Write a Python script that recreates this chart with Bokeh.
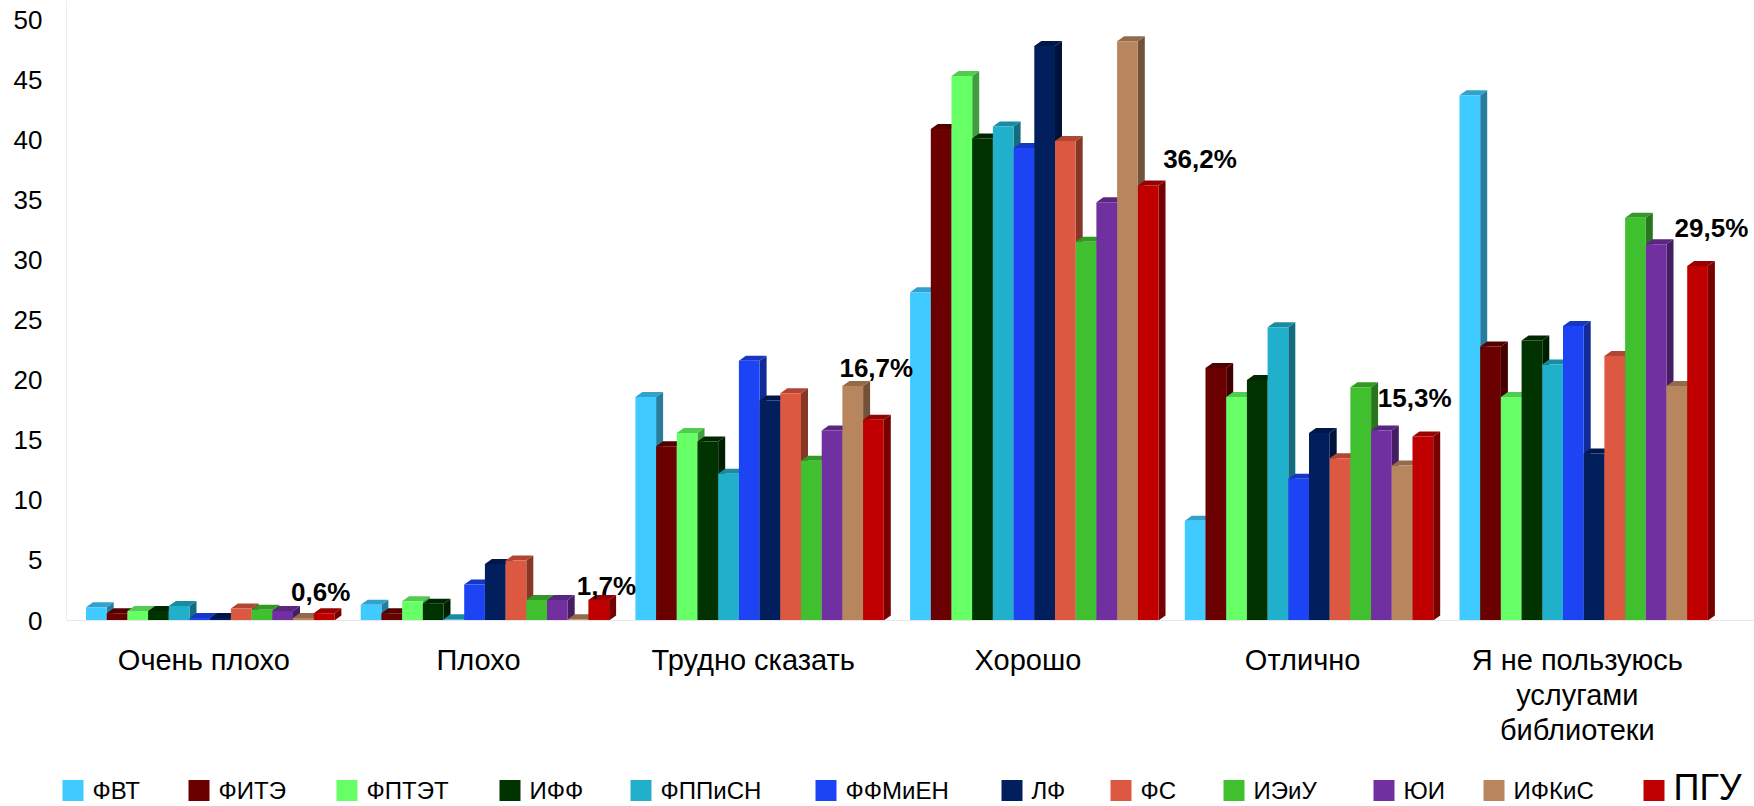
from bokeh.plotting import figure
from bokeh.layouts import column
from bokeh.models import Range1d, FixedTicker, ColumnDataSource
from bokeh.core.properties import value
from bokeh.embed import file_html
from bokeh.resources import INLINE

categories = ["Очень плохо", "Плохо", "Трудно сказать", "Хорошо", "Отлично",
              "Я не пользуюсь\nуслугами\nбиблиотеки"]
series_names = ["ФВТ", "ФИТЭ", "ФПТЭТ", "ИФФ", "ФППиСН", "ФФМиЕН", "ЛФ", "ФС",
                "ИЭиУ", "ЮИ", "ИФКиС", "ПГУ"]

fvt    = [1.1, 1.3, 18.6, 27.3, 8.3, 43.7]
fite   = [0.6, 0.6, 14.5, 40.9, 21.0, 22.8]
fptet  = [0.8, 1.6, 15.6, 45.3, 18.6, 18.6]
iff    = [0.8, 1.4, 14.9, 40.1, 20.0, 23.3]
fppisn = [1.2, 0.1, 12.2, 41.1, 24.4, 21.3]
ffmien = [0.2, 3.0, 21.6, 39.3, 11.8, 24.5]
lf     = [0.2, 4.7, 18.3, 47.8, 15.6, 13.9]
fs     = [1.0, 5.0, 18.9, 39.9, 13.5, 22.0]
ieiu   = [0.9, 1.7, 13.3, 31.5, 19.4, 33.5]
yui    = [0.8, 1.7, 15.8, 34.8, 15.8, 31.3]
ifkis  = [0.2, 0.1, 19.5, 48.2, 12.9, 19.5]
pgu    = [0.6, 1.7, 16.7, 36.2, 15.3, 29.5]

y_ticks = [0, 5, 10, 15, 20, 25, 30, 35, 40, 45, 50]

all_values = [fvt, fite, fptet, iff, fppisn, ffmien, lf, fs, ieiu, yui, ifkis, pgu]
colors = ["#3FCBFF", "#6B0000", "#66FF66", "#003300", "#20B0CC", "#1C44F5",
          "#001F5C", "#DC5840", "#40BF2F", "#7030A0", "#B8865E", "#C00000"]

# ---- styling / geometry (px based) ----
W = 1754
PX_PER_CAT = 274.7
PX_PER_UNIT = 12.02
BAR_PX = 20.7
SHIFT_PX = 6.35
DEPTH_X_PX = 7.0
DEPTH_Y_PX = 5.0
LEFT_BORDER = 66
FRAME_W = W - LEFT_BORDER
FRAME_H = 620
BOTTOM_BORDER = 138
LEG_H = 48
# ПГУ label offsets (screen px): left edge relative to bar centre, baseline above bar top
label_dx = [-33, -22, -34, 15, -45, -23]
label_dy = [21, 14, 52, 26, 39, 38]
# legend layout: left edge of each key square (px)
legend_left = [62, 188, 336, 499, 630, 815, 1001, 1110, 1223, 1373, 1483, 1643]
LEG_SQ = 21
LEG_STANDOFF = 30
LEG_CY = 16
LEG_BIG_CY = 19

FONT = "Liberation Sans"


def shade(hexcol, f):
    h = hexcol.lstrip("#")
    r, g, b = (int(h[i:i + 2], 16) for i in (0, 2, 4))
    return "#%02x%02x%02x" % (int(r * f), int(g * f), int(b * f))


bw = BAR_PX / PX_PER_CAT
shift = SHIFT_PX / PX_PER_CAT
ddx = DEPTH_X_PX / PX_PER_CAT
ddy = DEPTH_Y_PX / PX_PER_UNIT

x_end = -0.5 + FRAME_W / PX_PER_CAT
y_end = FRAME_H / PX_PER_UNIT

p = figure(frame_width=FRAME_W, frame_height=FRAME_H,
           x_range=Range1d(-0.5, x_end), y_range=Range1d(0, y_end),
           output_backend="svg", toolbar_location=None,
           min_border_left=LEFT_BORDER, min_border_right=0, min_border_top=0,
           min_border_bottom=BOTTOM_BORDER)
p.outline_line_color = None
p.grid.visible = False
p.background_fill_color = "white"

n = len(all_values)
for i, vals in enumerate(all_values):
    off = (i - (n - 1) / 2) * bw + shift
    xl = [c + off - bw / 2 for c in range(len(categories))]
    xr = [x + bw for x in xl]
    side_xs = [[r, r + ddx, r + ddx, r] for r in xr]
    side_ys = [[0, ddy, v + ddy, v] for v in vals]
    top_xs = [[l, r, r + ddx, l + ddx] for l, r in zip(xl, xr)]
    top_ys = [[v, v, v + ddy, v + ddy] for v in vals]
    p.patches(side_xs, side_ys, fill_color=shade(colors[i], 0.62), line_color=None)
    p.patches(top_xs, top_ys, fill_color=shade(colors[i], 0.8), line_color=None)
    src = ColumnDataSource(dict(left=xl, right=xr, top=vals, bottom=[0] * len(vals)))
    p.quad(left="left", right="right", top="top", bottom="bottom", source=src,
           fill_color=colors[i], line_color=None)

# data labels for ПГУ
pgu_off = (n - 1 - (n - 1) / 2) * bw + shift
lab_src = ColumnDataSource(dict(
    x=[c + pgu_off for c in range(len(categories))],
    y=pgu,
    text=[("%.1f" % v).replace(".", ",") + "%" for v in pgu],
    dx=label_dx,
    dy=[-d for d in label_dy],
))
p.text(x="x", y="y", text="text", x_offset="dx", y_offset="dy", source=lab_src,
       text_font=value(FONT), text_font_size="26px", text_font_style="bold",
       text_color="black", text_align="left", text_baseline="alphabetic")

# axes
yax = p.yaxis[0]
yax.ticker = FixedTicker(ticks=y_ticks)
yax.major_label_text_font = FONT
yax.major_label_text_font_size = "26px"
yax.major_label_text_color = "black"
yax.major_tick_line_color = None
yax.major_tick_out = 0
yax.minor_tick_line_color = None
yax.major_label_standoff = 24
yax.axis_line_color = "#ECECEC"

xax = p.xaxis[0]
xax.ticker = FixedTicker(ticks=list(range(len(categories))))
xax.major_label_overrides = {i: c for i, c in enumerate(categories)}
xax.major_label_text_font = FONT
xax.major_label_text_font_size = "29px"
xax.major_label_text_line_height = 1.1
xax.major_label_text_color = "black"
xax.major_tick_line_color = None
xax.major_tick_out = 0
xax.minor_tick_line_color = None
xax.major_label_standoff = 23
xax.axis_line_color = "#E6E6E6"

# ---- legend strip ----
lg = figure(frame_width=W, frame_height=LEG_H, x_range=Range1d(0, W), y_range=Range1d(0, LEG_H),
            output_backend="svg", toolbar_location=None,
            x_axis_location=None, y_axis_location=None,
            min_border_left=0, min_border_right=0, min_border_top=0, min_border_bottom=0)
lg.outline_line_color = None
lg.grid.visible = False
if "frame_align" in lg.properties():
    lg.frame_align = False
if "frame_align" in p.properties():
    p.frame_align = False

lg.rect(x=[l + LEG_SQ / 2 for l in legend_left], y=[LEG_CY] * n,
        width=LEG_SQ, height=LEG_SQ, width_units="screen", height_units="screen",
        fill_color=colors, line_color=None)
lg.text(x=[l + LEG_STANDOFF for l in legend_left[:-1]], y=[LEG_CY] * (n - 1),
        text=series_names[:-1], text_font=value(FONT), text_font_size="24px",
        text_color="black", text_align="left", text_baseline="middle")
lg.text(x=[legend_left[-1] + LEG_STANDOFF], y=[LEG_BIG_CY], text=[series_names[-1]],
        text_font=value(FONT), text_font_size="36px", text_color="black",
        text_align="left", text_baseline="middle")

layout = column(p, lg, spacing=0)
open("out.html", "w").write(file_html(layout, INLINE))
